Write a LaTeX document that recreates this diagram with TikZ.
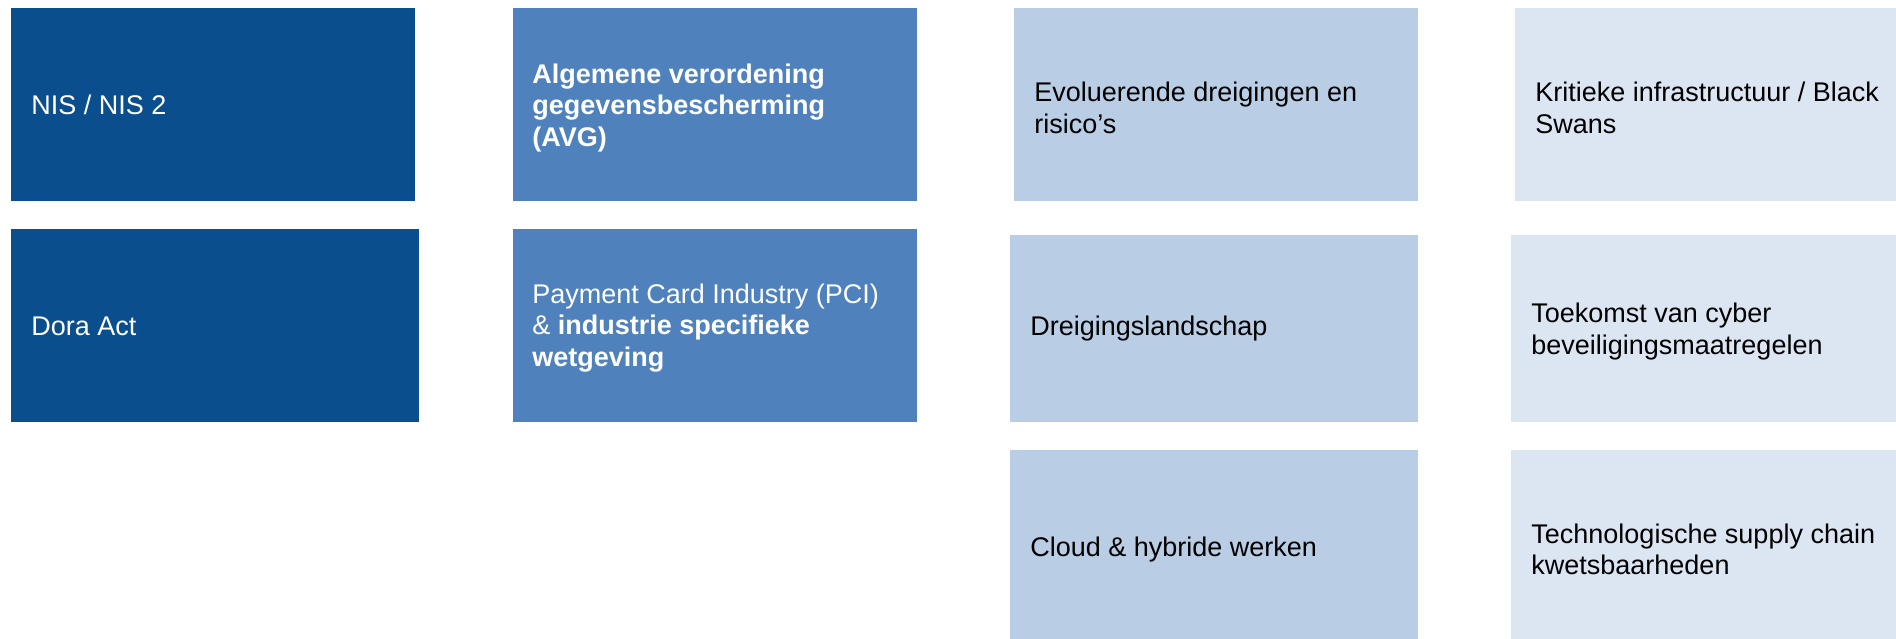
\documentclass[tikz,border=0pt]{standalone}
\usepackage{fontspec}
\setmainfont{Liberation Sans}
\definecolor{cdark}{RGB}{11,78,141}
\definecolor{cmid}{RGB}{79,129,189}
\definecolor{clight}{RGB}{185,205,229}
\definecolor{cpale}{RGB}{220,230,242}
\begin{document}
\begin{tikzpicture}[x=0.5pt,y=-0.5pt,
  box/.style={rectangle,draw=none,inner sep=0pt,anchor=north west},
  txt/.style={inner sep=0pt,anchor=west,align=left,font=\fontsize{13.5pt}{15.9pt}\selectfont},
  wtxt/.style={txt,text=white},
  btxt/.style={txt,text=black}]
\useasboundingbox (0,0) rectangle (1896,638);
\clip (0,0) rectangle (1896,638);
\fill[white] (0,0) rectangle (1896,638);
% column 1
\node[box,fill=cdark,minimum width=202pt,minimum height=96.5pt] (nis) at (11,8) {};
\node[box,fill=cdark,minimum width=204pt,minimum height=96.5pt] (dora) at (11,229) {};
% column 2
\node[box,fill=cmid,minimum width=202pt,minimum height=96.5pt] (avg) at (513,8) {};
\node[box,fill=cmid,minimum width=202pt,minimum height=96.5pt] (pci) at (513,229) {};
% column 3
\node[box,fill=clight,minimum width=202pt,minimum height=96.5pt] (evol) at (1014,8) {};
\node[box,fill=clight,minimum width=204pt,minimum height=93.5pt] (dreig) at (1010,235) {};
\node[box,fill=clight,minimum width=204pt,minimum height=99pt] (cloud) at (1010,450) {};
% column 4
\node[box,fill=cpale,minimum width=200pt,minimum height=96.5pt] (krit) at (1515,8) {};
\node[box,fill=cpale,minimum width=200pt,minimum height=93.5pt] (toek) at (1511,235) {};
\node[box,fill=cpale,minimum width=200pt,minimum height=99pt] (tech) at (1511,450) {};
% texts
\node[wtxt] (tnis) at ([xshift=10pt]nis.west) {NIS / NIS 2};
\node[wtxt] (tdora) at ([xshift=10pt]dora.west) {Dora Act};
\node[wtxt] (tavg) at ([xshift=9.5pt,yshift=-1.5pt]avg.west) {\textbf{Algemene verordening}\\\textbf{gegevensbescherming}\\\textbf{(AVG)}};
\node[wtxt] (tpci) at ([xshift=9.5pt,yshift=-1pt]pci.west) {Payment Card Industry (PCI)\\\& \textbf{industrie specifieke}\\\textbf{wetgeving}};
\node[btxt] (tevol) at ([xshift=10pt,yshift=-1.5pt]evol.west) {Evoluerende dreigingen en\\risico’s};
\node[btxt] (tdreig) at ([xshift=10pt]dreig.west) {Dreigingslandschap};
\node[btxt] (tcloud) at ([xshift=10pt]cloud.west) {Cloud \& hybride werken};
\node[btxt] (tkrit) at ([xshift=10pt,yshift=-1.5pt]krit.west) {Kritieke infrastructuur / Black\\Swans};
\node[btxt] (ttoek) at ([xshift=10pt,yshift=-1.5pt]toek.west) {Toekomst van cyber\\beveiligingsmaatregelen};
\node[btxt] (ttech) at ([xshift=10pt]tech.west) {Technologische supply chain\\kwetsbaarheden};
\end{tikzpicture}
\end{document}
